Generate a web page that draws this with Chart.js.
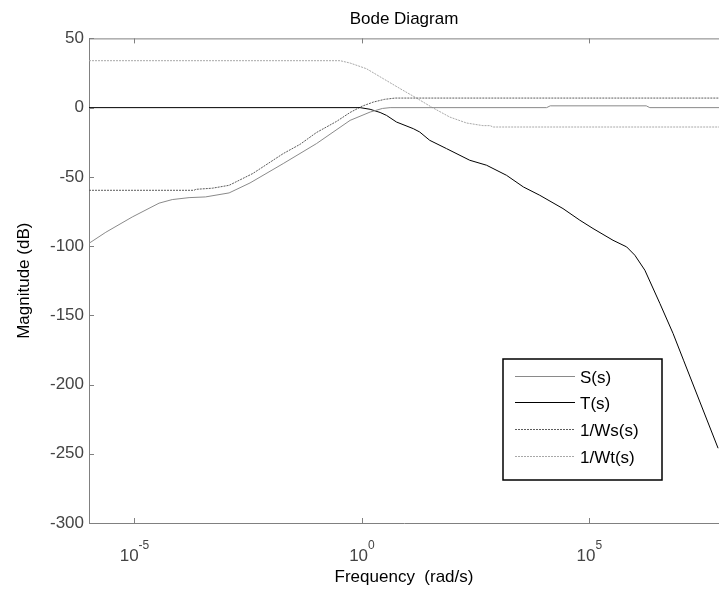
<!DOCTYPE html>
<html lang="en">
<head>
    <meta charset="UTF-8">
    <title>Bode Diagram</title>
    <script src="https://cdn.jsdelivr.net/npm/chart.js"></script>
    <style>
        html, body { margin: 0; padding: 0; background: #fff; overflow: hidden; }
        canvas { display: block; }
    </style>
</head>
<body>
<canvas id="bode" width="719" height="592"></canvas>

<script>
    // frequency values are log10(rad/s), magnitudes in dB
    const sLogW  = [-6.0, -5.63, -5.05, -4.46, -4.17, -3.80, -3.44, -2.92, -2.46, -1.73, -1.0, -0.26, 0.18, 0.45, 0.62, 4.06, 4.14, 6.25, 6.33, 7.85];
    const sMag   = [-98, -90, -79, -69, -66.4, -65, -64.5, -61.6, -54.4, -40.4, -26, -9.2, -3.2, -0.6, 0, 0, 1.3, 1.3, 0, 0];

    const tLogW  = [-6.0, -0.04, 0.18, 0.40, 0.54, 0.76, 1.13, 1.27, 1.49, 1.86, 2.37, 2.74, 3.18, 3.55, 3.91, 4.42, 4.79, 5.08, 5.52, 5.82, 6.0, 6.22, 6.55, 6.84, 7.07, 7.83];
    const tMag   = [0, 0, -1.2, -3.5, -5.6, -10.4, -15.2, -17.6, -23.6, -29.6, -38, -41.6, -48.9, -57.3, -63.3, -72.9, -81.3, -87.3, -95.8, -100.6, -106.6, -117.4, -141.4, -163.1, -182.4, -246];

    const wsLogW = [-6.0, -3.69, -3.65, -3.29, -2.92, -2.40, -1.73, -1.36, -1.0, -0.56, -0.26, 0.0, 0.25, 0.5, 0.73, 7.85];
    const wsMag  = [-59.7, -59.7, -59, -58.2, -56.1, -47.6, -33.2, -26.5, -18, -10, -3.5, 1, 4, 6, 6.9, 6.9];

    const wtLogW = [-6.0, -0.48, -0.26, 0.10, 0.47, 0.84, 1.20, 1.53, 1.93, 2.30, 2.66, 2.82, 2.88, 7.85];
    const wtMag  = [33.9, 33.9, 32.2, 28.1, 20.9, 13.7, 6.9, 0.4, -6.8, -11.1, -13.0, -13.0, -14, -14];

    const seriesNames = ['S(s)', 'T(s)', '1/Ws(s)', '1/Wt(s)'];
    const xTickExp = [-5, 0, 5];
    const yTicks = [50, 0, -50, -100, -150, -200, -250, -300];

    const FONT = '"Liberation Sans", Arial, sans-serif';

    function pts(logw, mag) {
        return logw.map((e, i) => ({ x: Math.pow(10, e), y: mag[i] }));
    }

    // axis box, inside ticks, superscript labels and the legend
    const bodeExtras = {
        id: 'bodeExtras',
        afterDraw(chart) {
            const ctx = chart.ctx;
            const area = chart.chartArea;
            const xs = chart.scales.x, ys = chart.scales.y;
            ctx.save();
            ctx.strokeStyle = '#808080';
            ctx.lineWidth = 1;
            ctx.beginPath();
            ctx.moveTo(area.left, area.top + 0.5);
            ctx.lineTo(area.right, area.top + 0.5);
            // x ticks top and bottom
            xTickExp.forEach(e => {
                const px = Math.round(xs.getPixelForValue(Math.pow(10, e))) + 0.5;
                ctx.moveTo(px, area.bottom);
                ctx.lineTo(px, area.bottom - 5);
                ctx.moveTo(px, area.top);
                ctx.lineTo(px, area.top + 5);
            });
            yTicks.forEach(v => {
                const py = Math.round(ys.getPixelForValue(v)) + 0.5;
                ctx.moveTo(area.left, py);
                ctx.lineTo(area.left + 5, py);
            });
            ctx.stroke();

            // 10^n labels
            ctx.fillStyle = '#444';
            ctx.textBaseline = 'alphabetic';
            ctx.textAlign = 'left';
            xTickExp.forEach(e => {
                const px = xs.getPixelForValue(Math.pow(10, e));
                ctx.font = '17px ' + FONT;
                const bw = ctx.measureText('10').width;
                ctx.font = '12px ' + FONT;
                const ew = ctx.measureText(String(e)).width;
                const x0 = px - (bw + ew) / 2;
                ctx.font = '17px ' + FONT;
                ctx.fillText('10', x0, 561);
                ctx.font = '12px ' + FONT;
                ctx.fillText(String(e), x0 + bw, 549);
            });

            // legend box
            const lx = 503, ly = 359, lw = 159, lh = 121;
            ctx.fillStyle = '#fff';
            ctx.fillRect(lx, ly, lw, lh);
            ctx.strokeStyle = '#000';
            ctx.lineWidth = 1.5;
            ctx.strokeRect(lx, ly, lw, lh);
            const rows = [376, 402, 429, 456];
            chart.data.datasets.forEach((ds, i) => {
                ctx.strokeStyle = ds.borderColor;
                ctx.lineWidth = ds.borderWidth;
                ctx.setLineDash(ds.borderDash || []);
                ctx.beginPath();
                ctx.moveTo(515, rows[i] + 0.5);
                ctx.lineTo(575, rows[i] + 0.5);
                ctx.stroke();
                ctx.setLineDash([]);
                ctx.fillStyle = '#000';
                ctx.font = '17px ' + FONT;
                ctx.textBaseline = 'middle';
                ctx.fillText(ds.label, 580, rows[i] + 2);
            });
            ctx.restore();
        }
    };

    const ctx = document.getElementById('bode').getContext('2d');
    new Chart(ctx, {
        type: 'scatter',
        data: {
            datasets: [
                { label: seriesNames[0], data: pts(sLogW, sMag), borderColor: '#8a8a8a', borderWidth: 1 },
                { label: seriesNames[1], data: pts(tLogW, tMag), borderColor: '#000000', borderWidth: 1 },
                { label: seriesNames[2], data: pts(wsLogW, wsMag), borderColor: '#5c5c5c', borderWidth: 1, borderDash: [2, 1] },
                { label: seriesNames[3], data: pts(wtLogW, wtMag), borderColor: '#a8a8a8', borderWidth: 1, borderDash: [2, 1] }
            ].map(d => Object.assign(d, { showLine: true, pointRadius: 0, tension: 0, fill: false }))
        },
        options: {
            responsive: false,
            animation: false,
            events: [],
            layout: { padding: 0 },
            plugins: {
                legend: { display: false },
                tooltip: { enabled: false },
                title: {
                    display: true,
                    text: 'Bode Diagram',
                    fullSize: false,
                    color: '#000',
                    font: { family: FONT, size: 17, weight: 'normal' },
                    padding: { top: 9, bottom: 9 }
                }
            },
            scales: {
                x: {
                    type: 'logarithmic',
                    min: 1e-6,
                    max: Math.pow(10, 7.85),
                    afterBuildTicks: s => { s.ticks = xTickExp.map(e => ({ value: Math.pow(10, e) })); },
                    afterFit: s => { s.height = 69; },
                    ticks: { display: false },
                    grid: { display: false },
                    border: { display: true, color: '#808080', width: 1 },
                    title: {
                        display: true,
                        text: 'Frequency  (rad/s)',
                        color: '#000',
                        font: { family: FONT, size: 17 },
                        padding: { top: 0, bottom: 4 }
                    }
                },
                y: {
                    min: -300,
                    max: 50,
                    afterFit: s => { s.width = 89; },
                    ticks: {
                        stepSize: 50,
                        color: '#444',
                        padding: 5,
                        font: { family: FONT, size: 17 }
                    },
                    grid: { display: false, drawTicks: false },
                    border: { display: true, color: '#808080', width: 1 },
                    title: {
                        display: true,
                        text: 'Magnitude (dB)',
                        color: '#000',
                        font: { family: FONT, size: 17 },
                        padding: { top: 14, bottom: 0 }
                    }
                }
            }
        },
        plugins: [bodeExtras]
    });
</script>
</body>
</html>
